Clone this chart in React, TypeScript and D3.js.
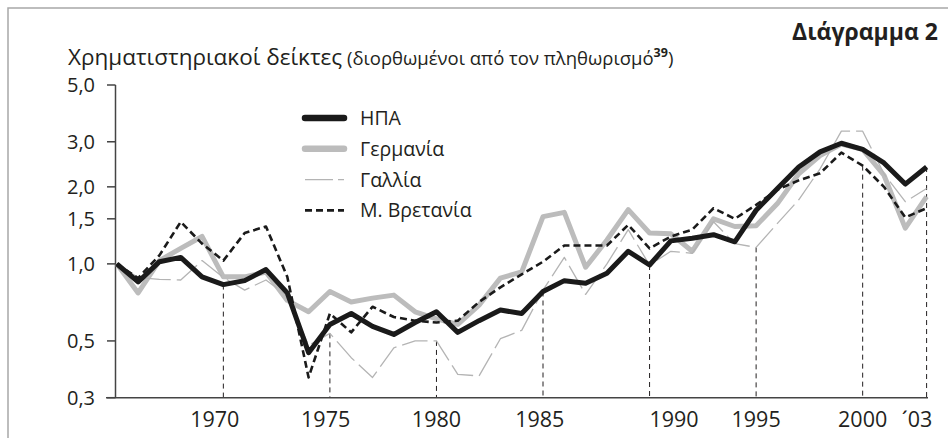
import * as d3 from "d3"

const years = d3.range(1965, 2004)

const usa = [
  1.0, 0.85, 1.02, 1.06, 0.89, 0.83, 0.86, 0.95, 0.77, 0.45,
  0.58, 0.64, 0.57, 0.53, 0.59, 0.65, 0.54, 0.6, 0.66, 0.64,
  0.78, 0.86, 0.84, 0.92, 1.12, 0.99, 1.23, 1.26, 1.3, 1.22,
  1.62, 1.97, 2.39, 2.74, 2.96, 2.8, 2.48, 2.05, 2.39,
]
const germany = [
  1.0, 0.77, 1.03, 1.15, 1.28, 0.89, 0.89, 0.93, 0.72, 0.65,
  0.78, 0.71, 0.735, 0.755, 0.65, 0.61, 0.58, 0.69, 0.88, 0.93,
  1.53, 1.59, 0.97, 1.24, 1.63, 1.32, 1.31, 1.12, 1.5, 1.4,
  1.41, 1.72, 2.25, 2.65, 2.94, 2.8, 2.22, 1.38, 1.83,
]
const france = [
  1.0, 0.885, 0.87, 0.865, 1.03, 0.885, 0.79, 0.865, 0.75, 0.48,
  0.535, 0.43, 0.36, 0.47, 0.5, 0.5, 0.37, 0.365, 0.51, 0.55,
  0.79, 1.06, 0.76, 1.0, 1.36, 0.99, 1.12, 1.1, 1.46, 1.2,
  1.16, 1.44, 1.78, 2.35, 3.3, 3.3, 2.25, 1.75, 1.97,
]
const britain = [
  1.0, 0.88, 1.08, 1.46, 1.2, 1.03, 1.32, 1.4, 0.89, 0.36,
  0.64, 0.54, 0.68, 0.62, 0.6, 0.59, 0.6, 0.71, 0.81, 0.91,
  1.02, 1.18, 1.18, 1.18, 1.42, 1.15, 1.28, 1.36, 1.65, 1.5,
  1.7, 1.95, 2.12, 2.26, 2.72, 2.42, 2.0, 1.52, 1.65,
]

const yTicks = [0.3, 0.5, 1, 1.5, 2, 3, 5]
const guideYears = [1970, 1975, 1980, 1985, 1990, 1995, 2000, 2003]
const guideTops = [0.83, 0.535, 0.5, 0.78, 0.99, 1.16, 2.42, 2.39]
const xLabels = ["1970", "1975", "1980", "1985", "1990", "1995", "2000", "´03"]
const xLabelAt = [1969.6, 1974.8, 1980, 1984.85, 1991.15, 1995, 2000, 2002.55]

const series = [
  { name: "Γερμανία", values: germany, color: "#bcbcbc", width: 5, dash: undefined },
  { name: "Γαλλία", values: france, color: "#b4b4b4", width: 1.3, dash: "26 6" },
  { name: "Μ. Βρετανία", values: britain, color: "#1a1a1a", width: 2.6, dash: "7 4" },
  { name: "ΗΠΑ", values: usa, color: "#1a1a1a", width: 5, dash: undefined },
]
const legendOrder = ["ΗΠΑ", "Γερμανία", "Γαλλία", "Μ. Βρετανία"]

const font = "'Open Sans', 'Noto Sans', sans-serif"

export default function App() {
  const W = 948
  const H = 438
  const x = d3.scaleLinear().domain([1965, 2003]).range([116.8, 926.6])
  const y = d3.scaleLog().domain([0.3, 5]).range([397.7, 85])
  const fmt = (v: number) => d3.format(".1f")(v).replace(".", ",")

  const line = d3
    .line<number>()
    .x((_, i) => x(years[i]))
    .y((d) => y(d))

  return (
    <svg
      width={W}
      height={H}
      style={{ position: "absolute", left: 0, top: 0, background: "#fff" }}
      fontFamily={font}
    >
      <rect x={8} y={8} width={W + 20} height={H + 20} fill="#fff" stroke="#a8a8a8" strokeWidth={1.5} />

      <text x={938} y={40} textAnchor="end" fontSize={23} fontWeight={700} fill="#231f20">
        Διάγραμμα 2
      </text>
      <text x={68} y={65} fontSize={22.5} fill="#231f20">
        Χρηματιστηριακοί δείκτες
        <tspan fontSize={18.5}> (διορθωμένοι από τον πληθωρισμό</tspan>
        <tspan fontSize={12.5} fontWeight={700} dy={-8}>39</tspan>
        <tspan fontSize={18.5} dy={8}>)</tspan>
      </text>

      {guideYears.map((yr, i) => (
        <line
          key={yr}
          x1={x(yr)}
          x2={x(yr)}
          y1={y(guideTops[i])}
          y2={y(0.3)}
          stroke="#231f20"
          strokeWidth={1}
          strokeDasharray="5 4"
        />
      ))}

      <line x1={115.5} x2={115.5} y1={y(5)} y2={y(0.3)} stroke="#444" strokeWidth={1.5} />
      <line x1={106} x2={928} y1={y(0.3)} y2={y(0.3)} stroke="#444" strokeWidth={1.5} />
      {yTicks.map((t) => (
        <g key={t}>
          <line x1={107} x2={115.5} y1={y(t)} y2={y(t)} stroke="#444" strokeWidth={1.5} />
          <text x={67} y={y(t)} dy="0.36em" fontSize={20} fill="#231f20">
            {fmt(t)}
          </text>
        </g>
      ))}
      {xLabels.map((l, i) => (
        <text key={l} x={x(xLabelAt[i])} y={427} textAnchor="middle" fontSize={21.5} fill="#231f20">
          {l}
        </text>
      ))}

      {series.map((s) => (
        <path
          key={s.name}
          d={line(s.values) ?? ""}
          fill="none"
          stroke={s.color}
          strokeWidth={s.width}
          strokeDasharray={s.dash}
          strokeLinejoin="round"
        />
      ))}

      {legendOrder.map((name, i) => {
        const s = series.find((d) => d.name === name)!
        const ly = 118 + i * 30.8
        return (
          <g key={name}>
            <line
              x1={305}
              x2={344}
              y1={ly}
              y2={ly}
              stroke={s.color}
              strokeWidth={s.width + (s.width > 4 ? 1.5 : 0)}
              strokeDasharray={s.dash === "26 6" ? "28 5" : s.dash}
              strokeLinecap={s.width > 4 ? "round" : "butt"}
            />
            <text x={360} y={ly} dy="0.36em" fontSize={19.5} fill="#231f20">
              {name}
            </text>
          </g>
        )
      })}
    </svg>
  )
}
